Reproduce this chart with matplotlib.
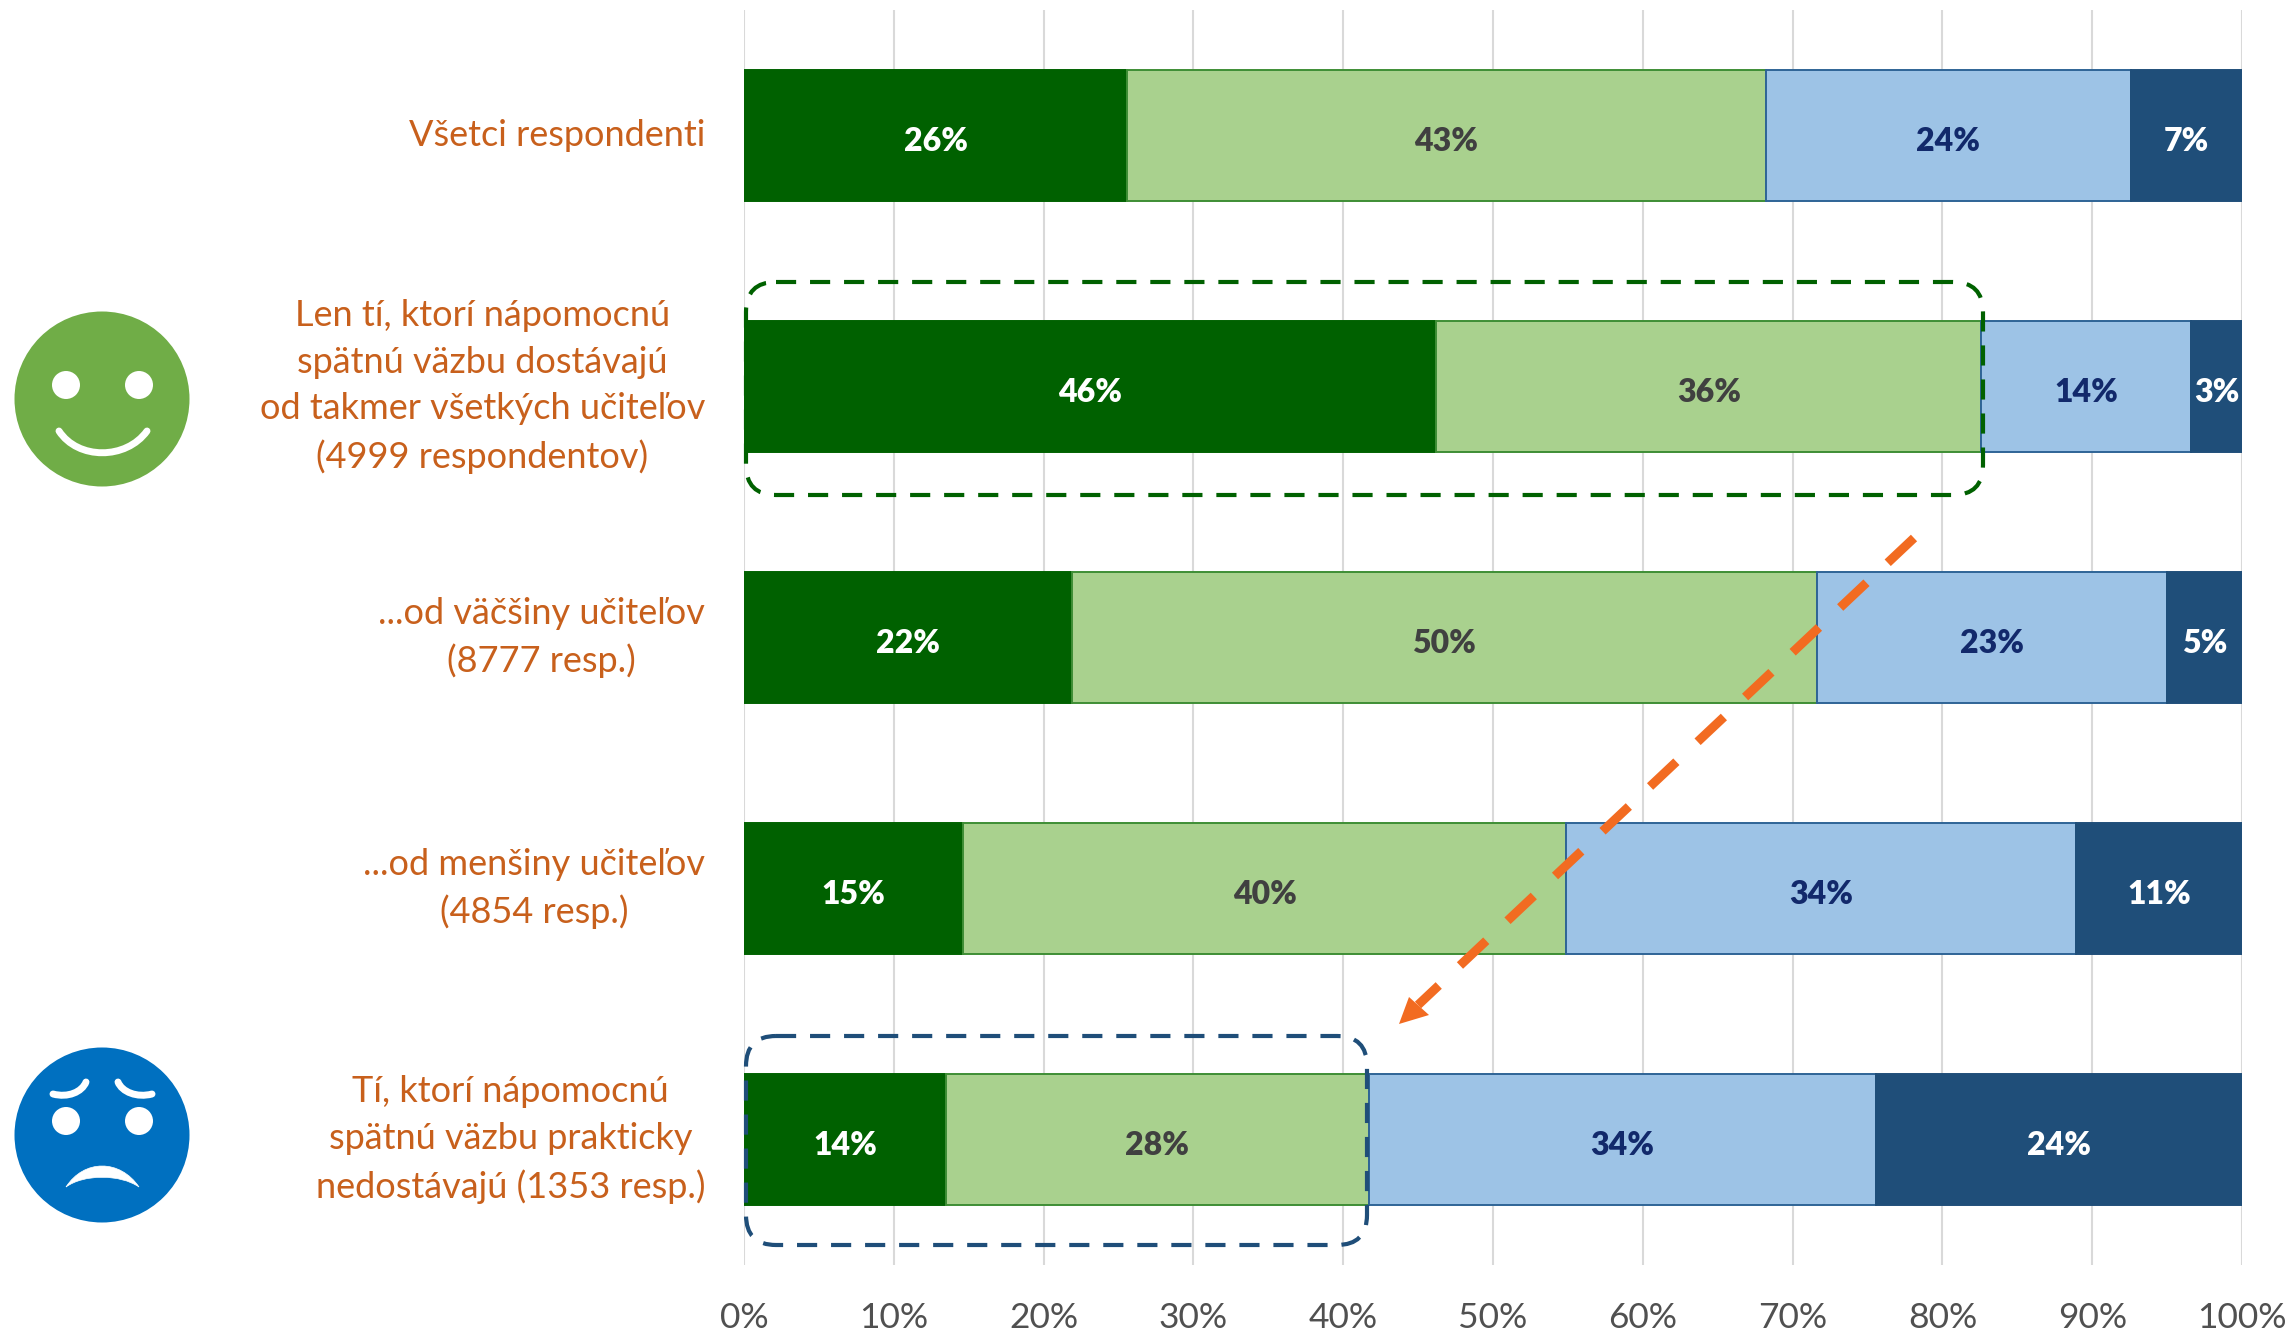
import matplotlib
matplotlib.use("Agg")
import matplotlib.pyplot as plt
from matplotlib.patches import Ellipse, FancyBboxPatch, Polygon, PathPatch
from matplotlib.path import Path

plt.rcParams['font.family'] = ['Lato', 'DejaVu Sans']
plt.rcParams['lines.scale_dashes'] = False

W, H = 2293, 1335

# Data
categories = [
    "Všetci respondenti",
    "Len tí, ktorí nápomocnú\nspätnú väzbu dostávajú\nod takmer všetkých učiteľov\n(4999 respondentov)",
    "...od väčšiny učiteľov\n(8777 resp.)",
    "...od menšiny učiteľov\n(4854 resp.)",
    "Tí, ktorí nápomocnú\nspätnú väzbu prakticky\nnedostávajú (1353 resp.)",
]
dark_green = [25.6, 46.2, 21.9, 14.6, 13.5]
light_green = [42.6, 36.4, 49.7, 40.3, 28.2]
light_blue = [24.4, 14.0, 23.4, 34.0, 33.9]
dark_blue = [7.4, 3.4, 5.0, 11.1, 24.4]
dark_green_lab = ["26%", "46%", "22%", "15%", "14%"]
light_green_lab = ["43%", "36%", "50%", "40%", "28%"]
light_blue_lab = ["24%", "14%", "23%", "34%", "34%"]
dark_blue_lab = ["7%", "3%", "5%", "11%", "24%"]
x_ticks = [0, 10, 20, 30, 40, 50, 60, 70, 80, 90, 100]

series = [
    (dark_green, dark_green_lab, '#006100', '#006100', 'white'),
    (light_green, light_green_lab, '#A9D18E', '#3E8E35', '#404040'),
    (light_blue, light_blue_lab, '#9DC3E6', '#2F6496', '#12296B'),
    (dark_blue, dark_blue_lab, '#1F4E79', '#1F4E79', 'white'),
]

fig = plt.figure(figsize=(W / 100, H / 100), dpi=100)
ax = fig.add_axes([744 / W, 1 - 1265 / H, (2242 - 744) / W, (1265 - 10) / H])

# Stacked bars
rows = list(range(len(categories)))
left = [0] * len(categories)
for vals, labs, col, edge, txt in series:
    bars = ax.barh(rows, vals, left=left, height=0.525, color=col, edgecolor=edge, linewidth=1.4, zorder=3)
    for t in ax.bar_label(bars, labels=labs, label_type='center', color=txt, fontsize=23, fontweight='heavy', zorder=4):
        t.xyann = (0, -4)
    left = [a + b for a, b in zip(left, vals)]

ax.set_xlim(0, 100)
ax.set_ylim(4.5, -0.5)
ax.set_xticks(x_ticks)
ax.set_xticklabels([f"{t}%" for t in x_ticks], fontsize=25.5, color='#505050')
ax.set_yticks(rows)
ax.set_yticklabels(categories, fontsize=26, color='#C8601C', multialignment='center', linespacing=1.5, va='center')
ax.tick_params(axis='both', length=0)
ax.tick_params(axis='x', pad=27)
ax.tick_params(axis='y', pad=28)
ax.grid(axis='x', color='#D9D9D9', linewidth=1.5, zorder=0)
ax.set_axisbelow(True)
for s in ax.spines.values():
    s.set_visible(False)

# Overlay in pixel coordinates for the shapes drawn on top of the chart
ov = fig.add_axes([0, 0, 1, 1], facecolor='none')
ov.set_xlim(0, W)
ov.set_ylim(H, 0)
ov.axis('off')

# Smileys
ov.add_patch(Ellipse((102, 399), 175, 175, color='#70AD47', lw=0))
ov.add_patch(Ellipse((102, 1135), 175, 175, color='#0070C0', lw=0))
for cy in (385, 1121):
    for cx in (66, 139):
        ov.add_patch(Ellipse((cx, cy), 28, 28, color='white', lw=0))

smile = Path([(59, 431), (78, 460), (126, 460), (147, 431)], [Path.MOVETO, Path.CURVE4, Path.CURVE4, Path.CURVE4])
ov.add_patch(PathPatch(smile, fc='none', ec='white', lw=5, capstyle='round'))
frown = Path([(66, 1187), (84, 1159), (120, 1159), (139, 1187), (120, 1174), (84, 1174), (66, 1187)],
             [Path.MOVETO, Path.CURVE4, Path.CURVE4, Path.CURVE4, Path.CURVE4, Path.CURVE4, Path.CURVE4])
ov.add_patch(PathPatch(frown, fc='white', ec='white', lw=0.5))
brow_l = Path([(53, 1094), (68, 1098), (82, 1092), (86, 1082)], [Path.MOVETO, Path.CURVE4, Path.CURVE4, Path.CURVE4])
brow_r = Path([(152, 1094), (137, 1098), (122, 1092), (118, 1082)], [Path.MOVETO, Path.CURVE4, Path.CURVE4, Path.CURVE4])
for b in (brow_l, brow_r):
    ov.add_patch(PathPatch(b, fc='none', ec='white', lw=5, capstyle='round'))

# Dashed highlight boxes
ov.add_patch(FancyBboxPatch((776, 312), 1177, 153, boxstyle='round,pad=30,rounding_size=30', fc='none',
                            ec='#006100', lw=3, linestyle=(0, (14.5, 10))))
ov.add_patch(FancyBboxPatch((776, 1066), 561, 149, boxstyle='round,pad=30,rounding_size=30', fc='none',
                            ec='#1F4E79', lw=3, linestyle=(0, (14.5, 10))))

# Dashed orange arrow
ov.plot([1914, 1418], [538, 1005], color='#F26B21', lw=6.5, linestyle=(0, (26, 21)), dash_capstyle='butt', zorder=6)
ov.add_patch(Polygon([(1399, 1024), (1409, 997), (1429, 1015)], color='#F26B21', lw=0, zorder=6))

fig.savefig("out.png", dpi=100, facecolor='white')
